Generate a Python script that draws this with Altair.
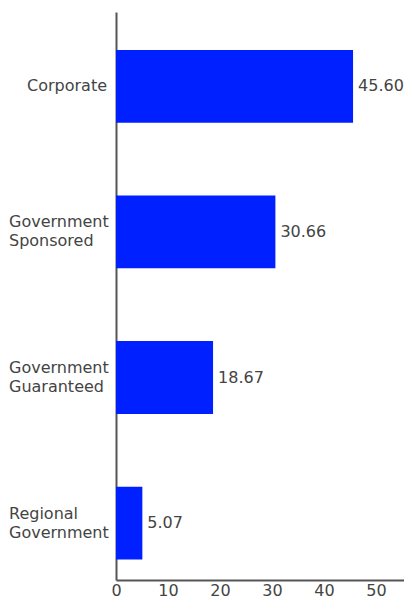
import altair as alt
import pandas as pd

categories = ["Corporate", "Government Sponsored", "Government Guaranteed", "Regional Government"]
values = [45.60, 30.66, 18.67, 5.07]
tick_values = [0, 10, 20, 30, 40, 50]

df = pd.DataFrame({"category": categories, "value": values})

FONT = "DejaVu Sans"
TXT = "#444444"

y_scale = alt.Scale(paddingInner=0.5, paddingOuter=0.2017, align=0.649)

base = alt.Chart(df).encode(
    y=alt.Y(
        "category:N",
        sort=categories,
        title=None,
        scale=y_scale,
        axis=alt.Axis(
            labels=False,
            ticks=False,
            tickSize=0,
            domainColor="#555555",
            domainWidth=2,
        ),
    ),
    x=alt.X(
        "value:Q",
        title=None,
        scale=alt.Scale(domain=[0, 55.4], nice=False),
        axis=alt.Axis(
            values=tick_values,
            grid=False,
            ticks=False,
            tickSize=0,
            labelPadding=2,
            labelFlush=False,
            labelFont=FONT,
            labelFontSize=16,
            labelColor=TXT,
            domainColor="#555555",
            domainWidth=2,
        ),
    ),
)

bars = base.mark_bar(color="#0020FF")
text = base.mark_text(align="left", baseline="middle", dx=5, font=FONT, fontSize=16, color=TXT).encode(
    text=alt.Text("value:Q", format=".2f")
)

lbl = alt.Chart(df).encode(y=alt.Y("category:N", sort=categories), text="category:N")
single = lbl.transform_filter("indexof(datum.category, ' ') < 0").mark_text(
    align="right", baseline="middle", font=FONT, fontSize=16, color=TXT, lineBreak=" ", lineHeight=19
).encode(x=alt.value(-9))
multi = lbl.transform_filter("indexof(datum.category, ' ') >= 0").mark_text(
    align="left", baseline="middle", font=FONT, fontSize=16, color=TXT, lineBreak=" ", lineHeight=19, dy=-9.5
).encode(x=alt.value(-107))

chart = (
    (bars + text + single + multi)
    .properties(
        width=288,
        height=568,
        autosize=alt.AutoSizeParams(type="none"),
        padding={"left": 108, "top": 4, "right": 0, "bottom": 19},
    )
    .configure_view(stroke=None)
)

chart.save("out.html", embed_options={"renderer": "svg", "actions": False})
